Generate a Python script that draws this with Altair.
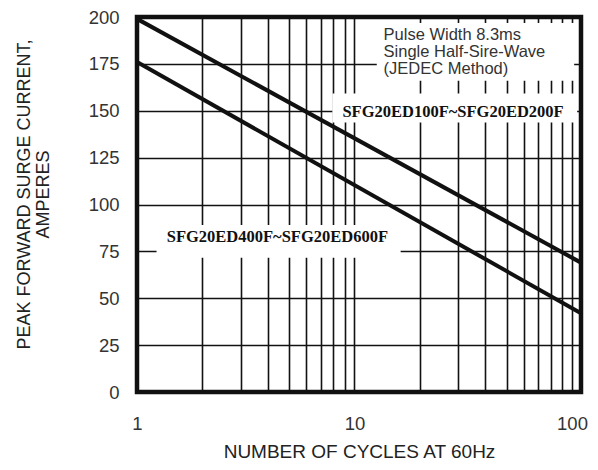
import altair as alt
import pandas as pd

# ---- data ----
cycles = [1, 110]
series_a = [199, 69]    # SFG20ED100F~SFG20ED200F
series_b = [176, 42]    # SFG20ED400F~SFG20ED600F
series_names = ["SFG20ED100F~SFG20ED200F", "SFG20ED400F~SFG20ED600F"]
x_grid = [1, 2, 3, 4, 5, 6, 7, 8, 9, 10, 20, 30, 40, 50, 60, 70, 80, 90, 100]
x_labels = [1, 10, 100]
y_ticks = [0, 25, 50, 75, 100, 125, 150, 175, 200]
note_text = "Pulse Width 8.3ms\nSingle Half-Sire-Wave\n(JEDEC Method)"

# annotation anchors (data coordinates)
label_x = [8.8, 1.37]
label_y = [149.6, 82.8]
note_x = [13.6]
note_y = [194.6]
# white backing boxes behind the annotations (data coordinates)
box_x0 = [12.66, 7.91, 1.23]
box_x1 = [102.3, 105.6, 16.3]
box_y0 = [166.0, 143.8, 71.6]
box_y1 = [196.8, 159.2, 89.1]

lines_df = pd.DataFrame({
    "cycles": cycles + cycles,
    "current": series_a + series_b,
    "series": [series_names[0]] * 2 + [series_names[1]] * 2,
})
labels_df = pd.DataFrame({"cycles": label_x, "current": label_y, "txt": series_names})
note_df = pd.DataFrame({"cycles": note_x, "current": note_y, "txt": [note_text]})
box_df = pd.DataFrame({"cycles": box_x0, "cycles2": box_x1,
                       "current": box_y0, "current2": box_y1})

SANS = "Liberation Sans"
label_test = " || ".join(f"datum.value == {v}" for v in x_labels)

x_axis = alt.Axis(
    values=x_grid,
    labelExpr=f"({label_test}) ? datum.label : ''",
    labelOverlap=False, labelFlush=False,
    grid=True, gridColor="#111", gridWidth=1.6,
    ticks=False, tickSize=0, domain=False,
    labelFont=SANS, labelFontSize=18.5, labelColor="#333", labelPadding=22,
    title="NUMBER OF CYCLES AT 60Hz", titleFont=SANS, titleFontSize=19,
    titleFontWeight="normal", titleColor="#222", titleY=59, titleBaseline="middle",
)
y_axis = alt.Axis(
    values=y_ticks,
    grid=True, gridColor="#111", gridWidth=1.6,
    ticks=False, tickSize=0, domain=False,
    labelFont=SANS, labelFontSize=18.5, labelColor="#333", labelPadding=18,
    title=["PEAK FORWARD SURGE CURRENT,", "AMPERES"], titleFont=SANS, titleFontSize=18,
    titleFontWeight="normal", titleColor="#222", titleAngle=270,
    titleX=-122, titleY=177, titleBaseline="top", titleAlign="center", titleLineHeight=19,
)

x_scale = alt.Scale(type="log", domain=[1, 110], nice=False)
y_scale = alt.Scale(domain=[0, 200], nice=False)

boxes = alt.Chart(box_df).mark_rect(color="white").encode(
    x=alt.X("cycles:Q", scale=x_scale, axis=x_axis),
    x2="cycles2:Q",
    y=alt.Y("current:Q", scale=y_scale, axis=y_axis),
    y2="current2:Q",
)

lines = alt.Chart(lines_df).mark_line(color="#111", strokeWidth=4).encode(
    x=alt.X("cycles:Q", scale=x_scale, axis=x_axis),
    y=alt.Y("current:Q", scale=y_scale, axis=y_axis),
    detail="series:N",
)

labels = alt.Chart(labels_df).mark_text(
    font="Liberation Serif", fontWeight="bold", fontSize=16.5, color="#111",
    align="left", baseline="middle",
).encode(
    x=alt.X("cycles:Q", scale=x_scale, axis=x_axis),
    y=alt.Y("current:Q", scale=y_scale, axis=y_axis),
    text="txt:N",
)

note = alt.Chart(note_df).mark_text(
    font=SANS, fontSize=16.5, color="#333", align="left", baseline="top",
    lineBreak="\n", lineHeight=17,
).encode(
    x=alt.X("cycles:Q", scale=x_scale, axis=x_axis),
    y=alt.Y("current:Q", scale=y_scale, axis=y_axis),
    text="txt:N",
)

chart = alt.layer(boxes, lines, labels, note).properties(
    width=444, height=375,
    autosize=alt.AutoSizeParams(type="none"),
    padding={"left": 129, "top": 9, "right": 9, "bottom": 70},
    background="white",
).configure_view(stroke="#111", strokeWidth=4.5)

chart.save("out.html", embed_options={"renderer": "svg", "actions": False})
